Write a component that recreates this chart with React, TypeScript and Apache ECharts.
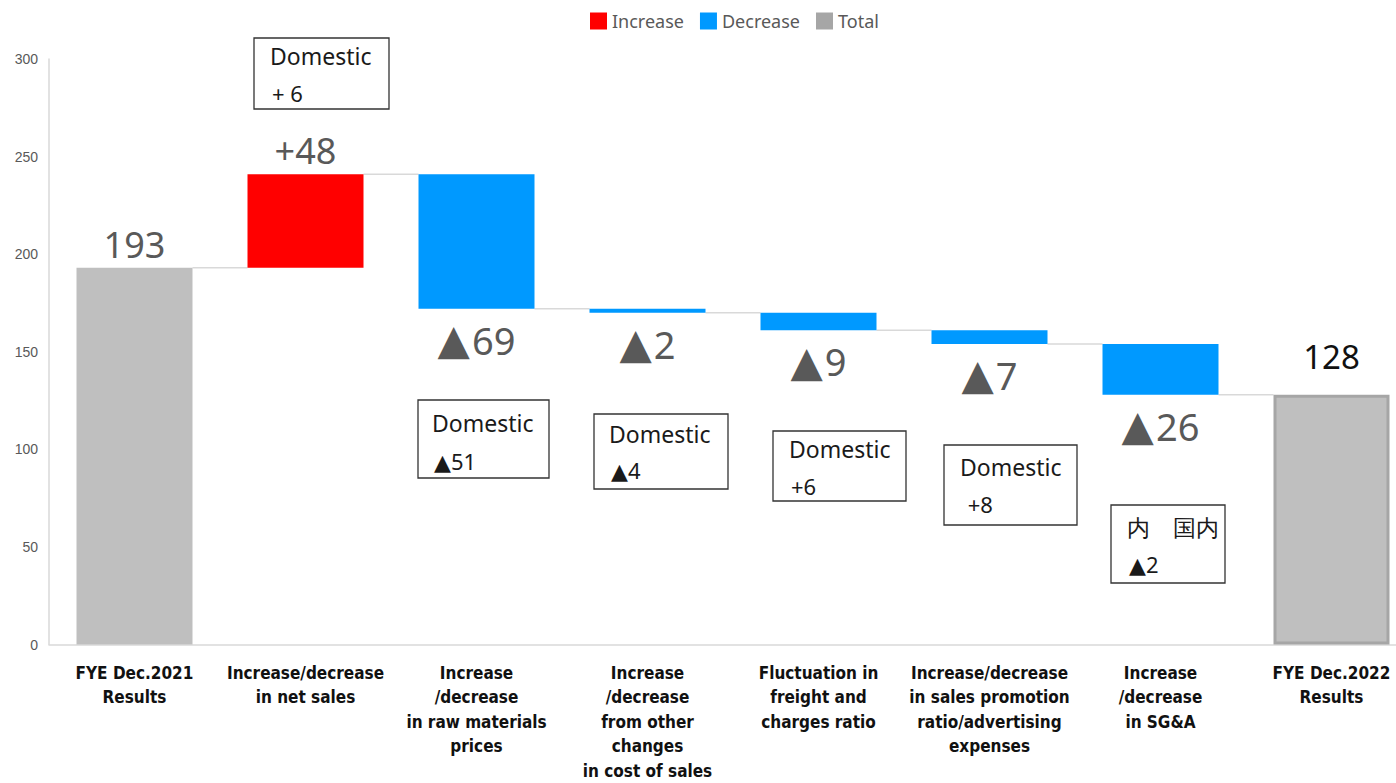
import React, { useEffect, useRef } from "react";
import * as echarts from "echarts";

const categories = [
  "FYE Dec.2021\nResults",
  "Increase/decrease\nin net sales",
  "Increase\n/decrease\nin raw materials\nprices",
  "Increase\n/decrease\nfrom other\nchanges\nin cost of sales",
  "Fluctuation in\nfreight and\ncharges ratio",
  "Increase/decrease\nin sales promotion\nratio/advertising\nexpenses",
  "Increase\n/decrease\nin SG&A",
  "FYE Dec.2022\nResults",
];
const startTotal = 193;
const changes = [48, -69, -2, -9, -7, -26];
const endTotal = 128;
const yMin = 0;
const yMax = 300;
const yInterval = 50;
const legendNames = ["Increase", "Decrease", "Total"];
const annotationLines = [
  ["Domestic", "+ 6"],
  ["Domestic", "▲51"],
  ["Domestic", "▲4"],
  ["Domestic", "+6"],
  ["Domestic", " +8"],
  ["内　国内", "▲2"],
];
// box positions (layout only)
const annotationBoxes = [
  { x: 254, y: 38, w: 135, h: 71, tx: 270, t1: 56, t2: 93 },
  { x: 418, y: 400, w: 131, h: 78, tx: 432, t1: 423, t2: 461 },
  { x: 594, y: 414, w: 134, h: 75, tx: 609, t1: 434, t2: 470 },
  { x: 773, y: 431, w: 133, h: 70, tx: 789, t1: 449, t2: 486 },
  { x: 944, y: 445, w: 133, h: 80, tx: 960, t1: 467, t2: 504 },
  { x: 1111, y: 505, w: 114, h: 78, tx: 1127, t1: 527, t2: 564 },
];

const FONT = "'Noto Sans', 'DejaVu Sans', sans-serif";
const AXIS_FONT = "'Liberation Sans Narrow', 'DejaVu Sans Condensed', 'Liberation Sans', sans-serif";

export default function App() {
  const ref = useRef<HTMLDivElement>(null);
  useEffect(() => {
    if (!ref.current) return;
    const chart = echarts.init(ref.current, undefined, { renderer: "svg" });

    const levels: number[] = [startTotal];
    changes.forEach((c) => levels.push(levels[levels.length - 1] + c));
    const n = categories.length;
    const base: (number | string)[] = [0];
    const inc: (number | string)[] = ["-"];
    const dec: (number | string)[] = ["-"];
    changes.forEach((c, i) => {
      const prev = levels[i];
      const next = levels[i + 1];
      base.push(Math.min(prev, next));
      inc.push(c > 0 ? c : "-");
      dec.push(c < 0 ? -c : "-");
    });
    base.push(0);
    inc.push("-");
    dec.push("-");
    const totals: any[] = categories.map(() => "-");
    totals[0] = { value: startTotal, label: { color: "#595959", distance: 5 } };
    totals[n - 1] = {
      value: endTotal,
      label: { color: "#111", distance: 22, fontSize: 33 },
      itemStyle: { borderColor: "#a6a6a6", borderWidth: 3 },
    };
    const connectors = levels.map((v, i) => [i, v]);
    const barWidth = 116;

    const graphics: any[] = [];
    annotationBoxes.forEach((b, i) => {
      graphics.push({
        type: "rect",
        shape: { x: b.x, y: b.y, width: b.w, height: b.h },
        style: { fill: "#fff", stroke: "#333", lineWidth: 1.3 },
        z: 100,
      });
      graphics.push({
        type: "text",
        x: b.tx,
        y: b.t1,
        style: { text: annotationLines[i][0], fontSize: 23, fontFamily: FONT, fill: "#1a1a1a", verticalAlign: "middle", align: "left" },
        z: 101,
      });
      graphics.push({
        type: "text",
        x: b.tx + 2,
        y: b.t2,
        style: { text: annotationLines[i][1], fontSize: 22, fontFamily: FONT, fill: "#1a1a1a", verticalAlign: "middle", align: "left" },
        z: 101,
      });
    });

    chart.setOption({
      animation: false,
      textStyle: { fontFamily: FONT },
      legend: {
        left: 585,
        top: 7,
        itemWidth: 17,
        itemHeight: 17,
        itemGap: 16,
        icon: "rect",
        textStyle: { fontSize: 18, color: "#595959", fontFamily: FONT },
        data: [
          { name: legendNames[0] },
          { name: legendNames[1] },
          { name: legendNames[2], itemStyle: { color: "#a6a6a6" } },
        ],
      },
      grid: { left: 49, top: 59, width: 1368, height: 589 },
      xAxis: {
        type: "category",
        data: categories,
        axisLine: { show: true, lineStyle: { color: "#d9d9d9", width: 1.5 } },
        axisTick: { show: false },
        axisLabel: {
          interval: 0,
          margin: 16,
          color: "#111",
          fontWeight: "bold",
          fontSize: 17,
          lineHeight: 24.5,
          fontFamily: AXIS_FONT,
          verticalAlign: "top",
        },
      },
      yAxis: {
        type: "value",
        min: yMin,
        max: yMax,
        interval: yInterval,
        axisLine: { show: true, lineStyle: { color: "#d9d9d9", width: 1.5 } },
        axisTick: { show: false },
        splitLine: { show: false },
        axisLabel: { color: "#595959", fontSize: 14, margin: 11, fontFamily: "'Liberation Sans', sans-serif" },
      },
      series: [
        {
          type: "custom",
          name: "connector",
          data: connectors,
          encode: { x: 0, y: 1 },
          silent: true,
          z: 1,
          renderItem: (params: any, api: any) => {
            const pt = api.coord([api.value(0), api.value(1)]);
            const cw = api.size([1, 0])[0];
            return {
              type: "line",
              shape: { x1: pt[0] + barWidth / 2, y1: pt[1], x2: pt[0] + cw - barWidth / 2, y2: pt[1] },
              style: { stroke: "#d9d9d9", lineWidth: 1.5 },
            };
          },
        },
        {
          type: "bar",
          name: "base",
          stack: "w",
          data: base,
          barWidth,
          silent: true,
          itemStyle: { color: "transparent" },
          z: 2,
        },
        {
          type: "bar",
          name: "Increase",
          stack: "w",
          data: inc,
          barWidth,
          itemStyle: { color: "#ff0000" },
          label: { show: true, position: "top", distance: 6, formatter: "+{c}", fontSize: 36, color: "#595959", fontFamily: FONT },
          z: 2,
        },
        {
          type: "bar",
          name: "Decrease",
          stack: "w",
          data: dec,
          barWidth,
          itemStyle: { color: "#0099ff" },
          label: {
            show: true,
            position: "bottom",
            distance: 10,
            formatter: (p: any) => "{t|▲}" + p.value,
            fontSize: 38,
            color: "#595959",
            fontFamily: FONT,
            rich: { t: { fontSize: 42, color: "#595959", fontFamily: "'DejaVu Sans', sans-serif", padding: [0, 2, 0, 0] } },
          },
          z: 2,
        },
        {
          type: "bar",
          name: "Total",
          stack: "w",
          data: totals,
          barWidth,
          itemStyle: { color: "#bfbfbf" },
          label: { show: true, position: "top", fontSize: 36, fontFamily: FONT },
          z: 2,
        },
      ],
      graphic: graphics,
    });
    return () => chart.dispose();
  }, []);
  return (
    <div style={{ position: "absolute", left: 0, top: 0, width: 1396, height: 783, overflow: "hidden" }}>
      <div ref={ref} style={{ position: "absolute", left: 0, top: 0, width: 1420, height: 783 }} />
    </div>
  );
}
